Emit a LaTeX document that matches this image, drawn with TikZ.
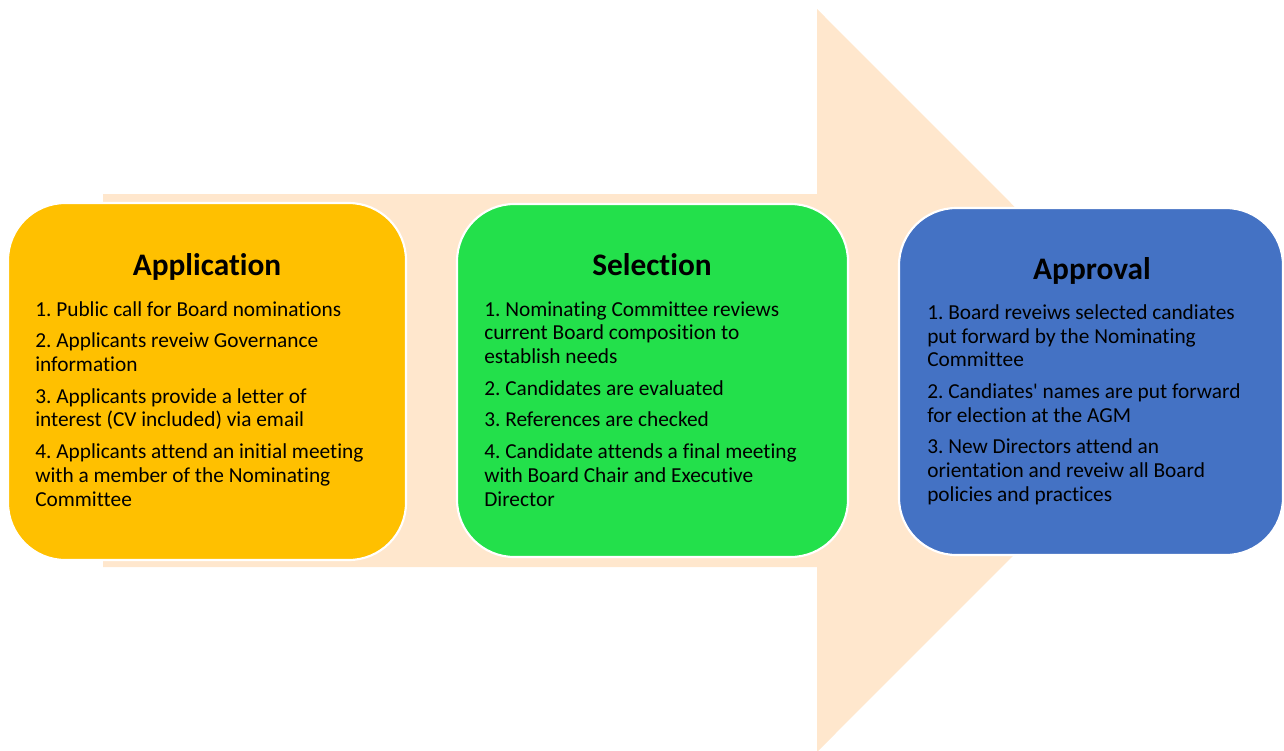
\documentclass[tikz,border=0pt]{standalone}
\usepackage{fontspec}
\setmainfont{Carlito}[Ligatures={NoCommon}]
\usepackage{tikz}
\usetikzlibrary{positioning}
\usepackage{xcolor}

\definecolor{arrowpeach}{HTML}{FFE7CD}
\definecolor{appgold}{HTML}{FFC000}
\definecolor{selgreen}{HTML}{23E04B}
\definecolor{apprblue}{HTML}{4472C4}

\frenchspacing
\newcommand{\stagelist}[1]{\parbox[t]{300pt}{\raggedright\setlength{\parskip}{6pt}#1}}

\tikzset{
    stage/.style={draw=white, line width=1.6pt, rounded corners=43pt, inner sep=0pt},
    stagetitle/.style={font=\fontsize{23.5}{28}\selectfont\bfseries, anchor=base, inner sep=0pt},
    stagetext/.style={font=\fontsize{16}{17.8}\selectfont, anchor=base west, inner sep=0pt}
}

\begin{document}
\begin{tikzpicture}[x=0.75pt, y=-0.75pt]
    \useasboundingbox (0,0) rectangle (1284,750);

    % Background arrow
    \fill[arrowpeach] (103,194) -- (817,194) -- (817,9) -- (1188,380.5)
        -- (817,752) -- (817,567) -- (103,567) -- cycle;

    % Stage boxes
    \node[stage, fill=appgold, minimum width=298.5pt, minimum height=267.75pt] (app) at (207,381.5) {};
    \node[stage, fill=selgreen, minimum width=293.25pt, minimum height=264.75pt] (sel) at (652.5,380.5) {};
    \node[stage, fill=apprblue, minimum width=288pt, minimum height=260.25pt] (appr) at (1091,381.5) {};

    % Titles
    \node[stagetitle] (apptitle) at (207,275) {Application};
    \node[stagetitle] (seltitle) at (652,275) {Selection};
    \node[stagetitle] (apprtitle) at (1092,279) {Approval};

    % Steps
    \node[stagetext] (appsteps) at (35,316) {\stagelist{%
        1. Public call for Board nominations\par
        2. Applicants reveiw Governance\\information\par
        3. Applicants provide a letter of\\interest (CV included) via email\par
        4. Applicants attend an initial meeting\\with a member of the Nominating\\Committee}};

    \node[stagetext] (selsteps) at (484,316) {\stagelist{%
        1. Nominating Committee reviews\\current Board composition to\\establish needs\par
        2. Candidates are evaluated\par
        3. References are checked\par
        4. Candidate attends a final meeting\\with Board Chair and Executive\\Director}};

    \node[stagetext] (apprsteps) at (927,319.3) {\stagelist{%
        1. Board reveiws selected candiates\\put forward by the Nominating\\Committee\par
        2. Candiates\textquotesingle{} names are put forward\\for election at the AGM\par
        3. New Directors attend an\\orientation and reveiw all Board\\policies and practices}};

\end{tikzpicture}
\end{document}
